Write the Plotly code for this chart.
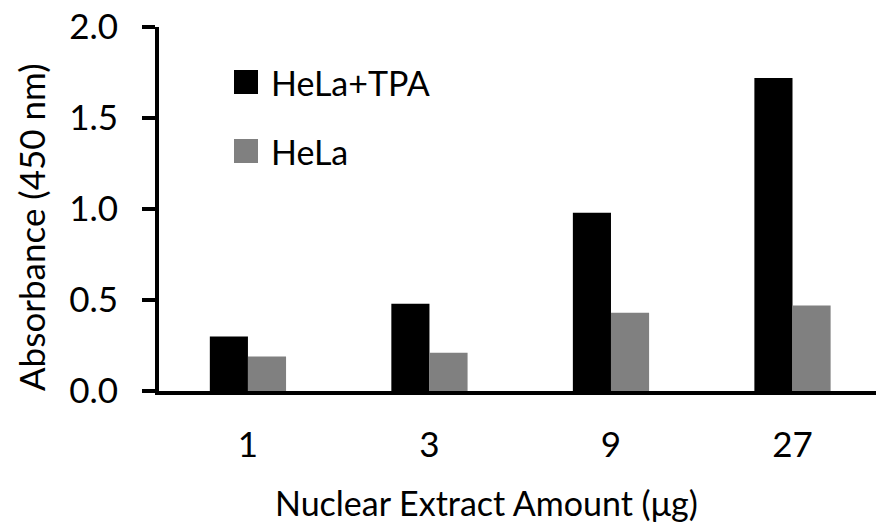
import plotly.graph_objects as go

categories = ["1", "3", "9", "27"]
hela_tpa = [0.30, 0.48, 0.98, 1.72]
hela = [0.19, 0.21, 0.43, 0.47]
series_names = ["HeLa+TPA", "HeLa"]
series_colors = ["#000000", "#808080"]
y_ticks = [0.0, 0.5, 1.0, 1.5, 2.0]
y_ticklabels = ["0.0", "0.5", "1.0", "1.5", "2.0"]

FONT = "Lato"
W, H = 876, 529
ML, MR, MT, MB = 159, 0, 27, 138
PW, PH = W - ML - MR, H - MT - MB

def px(x):
    return (x - ML) / PW

def py(y):
    return 1 - (y - MT) / PH

fig = go.Figure()
for name, vals, col in zip(series_names, [hela_tpa, hela], series_colors):
    fig.add_trace(go.Bar(x=categories, y=vals, name=name, marker_color=col,
                         marker_line_width=0, showlegend=False))

# custom legend (swatches + real text)
leg_y = [82, 151]
for name, col, yc in zip(series_names, series_colors, leg_y):
    fig.add_shape(type="rect", xref="paper", yref="paper",
                  x0=px(234), x1=px(258), y0=py(yc + 12), y1=py(yc - 12),
                  fillcolor=col, line_width=0)
    fig.add_annotation(xref="paper", yref="paper", x=px(269), y=py(yc),
                       text=name, showarrow=False, xanchor="left", yanchor="middle",
                       font=dict(family=FONT, size=34, color="#000000"))

# axis titles
fig.add_annotation(xref="paper", yref="paper", x=px(486), y=py(502),
                   text="Nuclear Extract Amount (μg)", showarrow=False,
                   xanchor="center", yanchor="middle",
                   font=dict(family=FONT, size=34, color="#000000"))
fig.add_annotation(xref="paper", yref="paper", x=px(31), y=py(227),
                   text="Absorbance (450 nm)", showarrow=False, textangle=-90,
                   xanchor="center", yanchor="middle",
                   font=dict(family=FONT, size=35, color="#000000"))

fig.update_layout(
    width=W, height=H,
    margin=dict(l=ML, r=MR, t=MT, b=MB, pad=0, autoexpand=False),
    paper_bgcolor="white", plot_bgcolor="white",
    barmode="group", bargap=0.58, bargroupgap=0,
    font=dict(family=FONT, size=35, color="#000000"),
)
fig.update_xaxes(type="category", range=[-0.49, 3.46], showline=True, linecolor="black",
                 linewidth=4, ticks="", showgrid=False, zeroline=False, automargin=False,
                 tickfont=dict(family=FONT, size=35), ticklabelstandoff=20,
                 ticklabeloverflow="allow")
fig.update_yaxes(range=[0, 2.0], tickvals=y_ticks, ticktext=y_ticklabels,
                 showline=True, linecolor="black", linewidth=4,
                 ticks="outside", ticklen=13, tickwidth=4, tickcolor="black",
                 showgrid=False, zeroline=False, automargin=False,
                 tickfont=dict(family=FONT, size=35), ticklabelstandoff=17,
                 ticklabeloverflow="allow")

fig.write_html("out.html", config={"displayModeBar": False},
               post_script="document.body.style.margin='0';document.body.style.overflow='hidden';")
